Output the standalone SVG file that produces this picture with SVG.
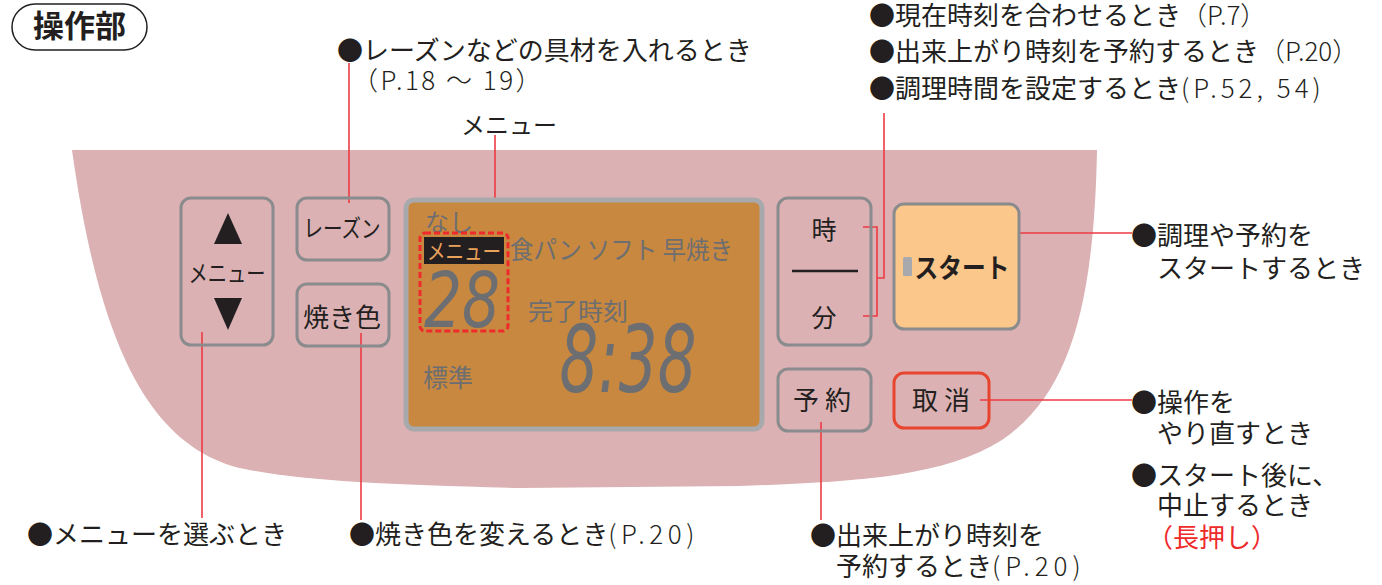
<svg xmlns="http://www.w3.org/2000/svg" width="1382" height="585" viewBox="0 0 1382 585">
<style>
text{font-family:"Noto Sans CJK JP","Noto Sans",sans-serif;fill:#231f20}
.t26{font-size:26px}
.lat{font-weight:300}
.btn{fill:none;stroke:#8a8b8d;stroke-width:3}
.lcd{fill:#6d6e71}
.lead{fill:none;stroke:#ee3a43;stroke-width:1.6}
.seg{font-family:"DejaVu Sans",sans-serif;font-style:italic;fill:#6d6e71}
</style>
<rect width="1382" height="585" fill="#ffffff"/>
<g id="title">
<rect x="12" y="4" width="135" height="46" rx="23" fill="none" stroke="#231f20" stroke-width="1.5"/>
<text x="79.5" y="37" font-size="31" font-weight="bold" text-anchor="middle">操作部</text>
</g>
<g id="body">
<path d="M72,150 L1097,150 C1094,300 1072,392 1002,440 C942,478 850,482 740,486 L520,488 C380,485 285,480 232,466 C150,440 100,350 72,150 Z" fill="#dbb1b3"/>
</g>
<g id="connectors">
<line class="lead" x1="349" y1="63" x2="349" y2="203"/>
<line class="lead" x1="495" y1="135" x2="495" y2="233"/>
<line class="lead" x1="202" y1="332" x2="202" y2="518"/>
<line class="lead" x1="361" y1="333" x2="361" y2="520"/>
<polyline class="lead" points="884,113 884,278 877,278"/>
<polyline class="lead" points="863,227 877,227 877,316 863,316"/>
<line class="lead" x1="1003" y1="233" x2="1132" y2="233"/>
<line class="lead" x1="980" y1="400" x2="1132" y2="400"/>
<line class="lead" x1="821" y1="422" x2="821" y2="520"/>
</g>
<g id="btn-menu">
<rect class="btn" x="181" y="198" width="92" height="147" rx="10"/>
<polygon points="228,213 214,244 242,244" fill="#231f20"/>
<text x="227" y="282" font-size="24" text-anchor="middle" textLength="77" lengthAdjust="spacingAndGlyphs">メニュー</text>
<polygon points="214,298 242,298 228,330" fill="#231f20"/>
</g>
<g id="btn-raisin">
<rect class="btn" x="297" y="198" width="92" height="62" rx="10"/>
<text x="342" y="237" font-size="24" text-anchor="middle" textLength="77" lengthAdjust="spacingAndGlyphs">レーズン</text>
</g>
<g id="btn-color">
<rect class="btn" x="297" y="284" width="92" height="62" rx="10"/>
<text x="342" y="327" font-size="26" text-anchor="middle">焼き色</text>
</g>
<g id="display">
<rect x="406" y="200" width="356" height="229" rx="8" fill="#c8883f" stroke="#a7a9ac" stroke-width="5"/>
<text class="lcd" x="425" y="231" font-size="24">なし</text>
<rect x="424" y="237" width="80" height="27" fill="#231f20"/>
<text x="464" y="259" font-size="22" text-anchor="middle" textLength="74" lengthAdjust="spacingAndGlyphs" style="fill:#eaa25a">メニュー</text>
<text class="seg" x="462" y="327" font-size="76" text-anchor="middle" textLength="76" lengthAdjust="spacingAndGlyphs">28</text>
<rect x="420" y="233" width="88" height="98" rx="5" fill="none" stroke="#ee2a2a" stroke-width="3" stroke-dasharray="6,3"/>
<text class="lcd" x="510" y="259" font-size="25" textLength="223" lengthAdjust="spacingAndGlyphs">食パン ソフト 早焼き</text>
<text class="lcd" x="528" y="320" font-size="24" textLength="100" lengthAdjust="spacingAndGlyphs">完了時刻</text>
<text class="seg" x="628" y="392" font-size="92" text-anchor="middle" textLength="137" lengthAdjust="spacingAndGlyphs">8:38</text>
<text class="lcd" x="423" y="387" font-size="25">標準</text>
</g>
<g id="btn-hourmin">
<rect class="btn" x="778" y="198" width="93" height="147" rx="10"/>
<text x="824" y="239" font-size="25" text-anchor="middle">時</text>
<line x1="792" y1="271" x2="858" y2="271" stroke="#231f20" stroke-width="2.5"/>
<text x="824" y="327" font-size="25" text-anchor="middle">分</text>
</g>
<g id="btn-start">
<rect x="894" y="204" width="125" height="125" rx="10" fill="#fcc78a" stroke="#8a8b8d" stroke-width="3"/>
<rect x="903" y="257" width="9" height="19" rx="1.5" fill="#a7a9ac"/>
<text x="962" y="278" font-size="27" font-weight="bold" text-anchor="middle" textLength="95" lengthAdjust="spacingAndGlyphs">スタート</text>
</g>
<g id="btn-reserve">
<rect class="btn" x="778" y="369" width="93" height="62" rx="10"/>
<text x="825" y="410" font-size="26" text-anchor="middle" letter-spacing="6">予約</text>
</g>
<g id="btn-cancel">
<rect x="894" y="373" width="95" height="55" rx="10" fill="none" stroke="#e8452f" stroke-width="3"/>
<text x="944" y="410" font-size="26" text-anchor="middle" letter-spacing="6">取消</text>
</g>
<g id="labels">
<text class="t26" x="337" y="60">●レーズンなどの具材を入れるとき</text>
<text class="t26" x="352" y="90"><tspan class="lat" letter-spacing="2.5">（P.18 ～ 19）</tspan></text>
<text x="461" y="134" font-size="24">メニュー</text>
<text class="t26" x="869" y="25">●現在時刻を合わせるとき<tspan class="lat">（P.7）</tspan></text>
<text class="t26" x="869" y="61">●出来上がり時刻を予約するとき<tspan class="lat">（P.20）</tspan></text>
<text class="t26" x="869" y="98">●調理時間を設定するとき<tspan class="lat" letter-spacing="4">(P.52, 54)</tspan></text>
<text class="t26" x="1131" y="245">●調理や予約を</text>
<text class="t26" x="1157" y="278">スタートするとき</text>
<text class="t26" x="1131" y="412">●操作を</text>
<text class="t26" x="1157" y="443">やり直すとき</text>
<text class="t26" x="1131" y="485">●スタート後に、</text>
<text class="t26" x="1157" y="515">中止するとき</text>
<text class="t26" x="1147" y="547" style="fill:#ee2a2a">（長押し）</text>
<text class="t26" x="27" y="544">●メニューを選ぶとき</text>
<text class="t26" x="349" y="544">●焼き色を変えるとき<tspan class="lat" letter-spacing="4.5">(P.20)</tspan></text>
<text class="t26" x="810" y="545">●出来上がり時刻を</text>
<text class="t26" x="836" y="576">予約するとき<tspan class="lat" letter-spacing="5">(P.20)</tspan></text>
</g>
</svg>
